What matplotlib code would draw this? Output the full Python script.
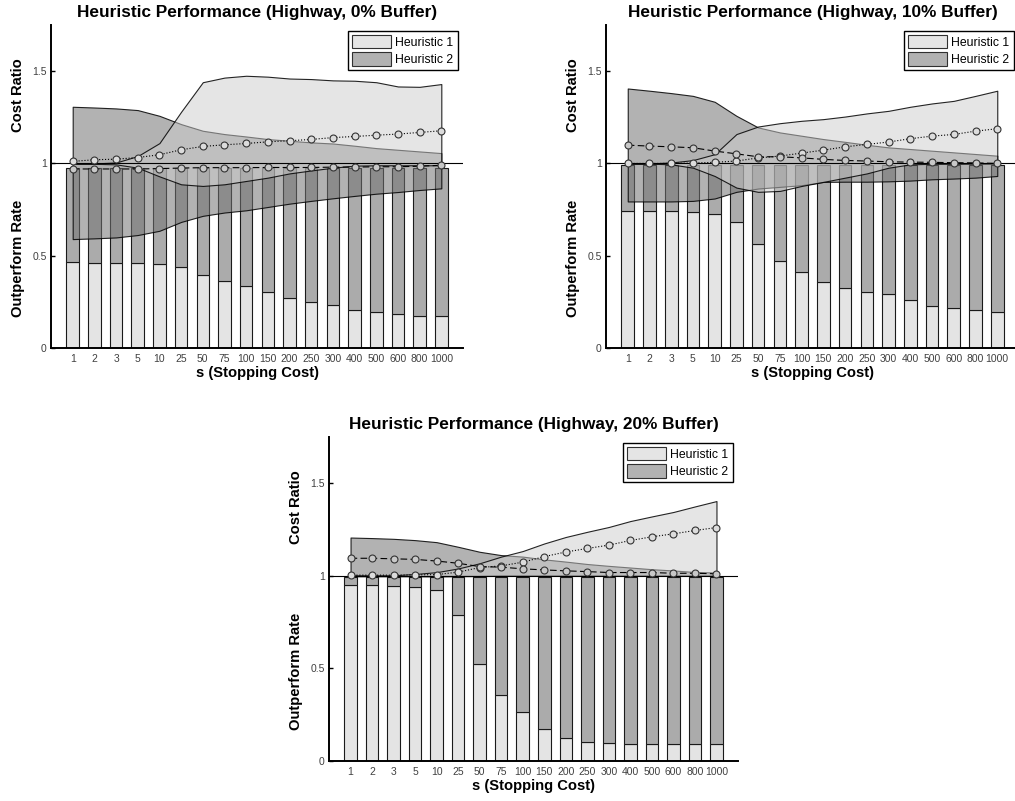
import numpy as np
import matplotlib
matplotlib.use("Agg")
import matplotlib.pyplot as plt
from matplotlib import font_manager
from matplotlib.patches import Patch

# Stopping-cost categories along the x axis
stops = ['1', '2', '3', '5', '10', '25', '50', '75', '100', '150', '200',
         '250', '300', '400', '500', '600', '800', '1000']

# --- Highway, 0% buffer ---
rate_h1_0 = [0.466, 0.462, 0.462, 0.462, 0.457, 0.439, 0.397, 0.361, 0.336,
             0.303, 0.271, 0.249, 0.235, 0.206, 0.193, 0.184, 0.173, 0.173]
rate_h2_0 = [0.509, 0.513, 0.513, 0.513, 0.518, 0.536, 0.578, 0.614, 0.639,
             0.672, 0.704, 0.726, 0.740, 0.769, 0.782, 0.791, 0.802, 0.802]
h1_lo_0 = [0.998, 0.998, 0.995, 0.977, 0.930, 0.887, 0.878, 0.887, 0.905,
           0.923, 0.946, 0.962, 0.977, 0.988, 0.990, 0.990, 0.990, 0.990]
h1_hi_0 = [1.000, 1.000, 1.005, 1.040, 1.110, 1.280, 1.440, 1.465, 1.475,
           1.470, 1.460, 1.457, 1.450, 1.448, 1.440, 1.417, 1.415, 1.430]
h2_lo_0 = [0.590, 0.594, 0.599, 0.612, 0.635, 0.683, 0.716, 0.734, 0.746,
           0.764, 0.782, 0.797, 0.811, 0.824, 0.836, 0.845, 0.856, 0.865]
h2_hi_0 = [1.307, 1.303, 1.298, 1.289, 1.258, 1.213, 1.177, 1.159, 1.146,
           1.132, 1.123, 1.114, 1.108, 1.096, 1.083, 1.074, 1.065, 1.056]
mean_h1_0 = [1.011, 1.020, 1.023, 1.032, 1.047, 1.074, 1.092, 1.101, 1.108,
             1.117, 1.123, 1.130, 1.140, 1.146, 1.153, 1.159, 1.168, 1.177]
mean_h2_0 = [0.970, 0.970, 0.970, 0.970, 0.972, 0.975, 0.977, 0.977, 0.977,
             0.978, 0.978, 0.978, 0.980, 0.980, 0.982, 0.982, 0.985, 0.990]

# --- Highway, 10% buffer ---
rate_h1_10 = [0.743, 0.743, 0.743, 0.737, 0.727, 0.680, 0.563, 0.471, 0.414,
              0.355, 0.327, 0.306, 0.293, 0.261, 0.230, 0.216, 0.205, 0.196]
rate_h2_10 = [0.247, 0.247, 0.247, 0.253, 0.263, 0.310, 0.427, 0.519, 0.576,
              0.635, 0.663, 0.684, 0.697, 0.729, 0.760, 0.774, 0.785, 0.794]
h1_lo_10 = [1.000, 0.999, 0.995, 0.977, 0.932, 0.869, 0.846, 0.851, 0.878,
            0.900, 0.923, 0.946, 0.977, 0.995, 0.998, 0.998, 0.999, 1.000]
h1_hi_10 = [1.000, 1.000, 1.005, 1.018, 1.050, 1.159, 1.200, 1.218, 1.231,
            1.240, 1.254, 1.271, 1.285, 1.307, 1.325, 1.339, 1.366, 1.394]
h2_lo_10 = [0.794, 0.794, 0.794, 0.797, 0.810, 0.846, 0.864, 0.873, 0.882,
            0.900, 0.901, 0.901, 0.903, 0.907, 0.914, 0.918, 0.923, 0.932]
h2_hi_10 = [1.406, 1.394, 1.381, 1.366, 1.334, 1.258, 1.195, 1.168, 1.150,
            1.132, 1.117, 1.101, 1.087, 1.078, 1.069, 1.060, 1.051, 1.042]
mean_h1_10 = [1.000, 1.000, 1.000, 1.002, 1.006, 1.013, 1.030, 1.040, 1.056,
              1.072, 1.090, 1.103, 1.116, 1.134, 1.148, 1.157, 1.175, 1.188]
mean_h2_10 = [1.099, 1.094, 1.090, 1.085, 1.067, 1.052, 1.036, 1.036, 1.030,
              1.022, 1.016, 1.013, 1.009, 1.007, 1.006, 1.004, 1.003, 1.000]

# --- Highway, 20% buffer ---
rate_h1_20 = [0.951, 0.951, 0.946, 0.939, 0.921, 0.789, 0.523, 0.355, 0.263,
              0.171, 0.123, 0.105, 0.095, 0.090, 0.090, 0.090, 0.090, 0.090]
rate_h2_20 = [0.044, 0.044, 0.049, 0.056, 0.074, 0.206, 0.472, 0.640, 0.732,
              0.824, 0.872, 0.890, 0.900, 0.905, 0.905, 0.905, 0.905, 0.905]
h1_lo_20 = [0.998, 0.998, 0.998, 0.998, 0.997, 0.998, 0.999, 1.000, 1.000,
            1.000, 1.000, 1.000, 1.000, 1.000, 1.000, 1.000, 1.000, 1.000]
h1_hi_20 = [1.003, 1.003, 1.003, 1.010, 1.020, 1.040, 1.068, 1.104, 1.134,
            1.175, 1.210, 1.238, 1.264, 1.296, 1.321, 1.345, 1.375, 1.404]
h2_lo_20 = [0.999, 0.999, 0.999, 0.999, 0.999, 1.000, 1.000, 1.000, 1.000,
            1.000, 1.000, 1.000, 1.000, 1.000, 1.000, 1.000, 1.000, 1.000]
h2_hi_20 = [1.207, 1.204, 1.200, 1.193, 1.182, 1.157, 1.130, 1.112, 1.104,
            1.089, 1.077, 1.064, 1.054, 1.045, 1.036, 1.029, 1.021, 1.018]
mean_h1_20 = [1.004, 1.004, 1.004, 1.005, 1.007, 1.020, 1.045, 1.054, 1.074,
              1.104, 1.129, 1.148, 1.166, 1.191, 1.211, 1.227, 1.245, 1.261]
mean_h2_20 = [1.095, 1.095, 1.092, 1.089, 1.080, 1.068, 1.050, 1.047, 1.038,
              1.032, 1.027, 1.023, 1.018, 1.018, 1.018, 1.014, 1.014, 1.011]

# colours
BAR1 = '#e4e4e4'
BAR2 = '#ababab'
BAND1 = (0.80, 0.80, 0.80, 0.50)
BAND2 = (0.45, 0.45, 0.45, 0.55)
EDGE = (0.0, 0.0, 0.0, 0.85)

BOLD = 'Liberation Sans'
names = {f.name for f in font_manager.fontManager.ttflist}
TICKFONT = 'Liberation Sans Narrow' if 'Liberation Sans Narrow' in names else 'Liberation Sans'
TICKSIZE = 8 if TICKFONT.endswith('Narrow') else 7.5

W, H = 1015, 801
fig = plt.figure(figsize=(W / 100, H / 100), dpi=100)
fig.patch.set_facecolor('white')


def add_px_axes(left, top, right, bottom):
    return fig.add_axes([left / W, 1 - bottom / H, (right - left) / W, (bottom - top) / H])


def draw_panel(ax, title, r1, r2, lo1, hi1, lo2, hi2, m1, m2):
    x = np.arange(1, len(stops) + 1)
    ax.bar(x, r1, width=0.58, color=BAR1, edgecolor='#1a1a1a', linewidth=0.8, zorder=1)
    ax.bar(x, r2, bottom=r1, width=0.58, color=BAR2, edgecolor='#1a1a1a', linewidth=0.8, zorder=1)

    ax.fill_between(x, lo2, hi2, facecolor=BAND2, edgecolor=EDGE, linewidth=0.8, zorder=2)
    ax.fill_between(x, lo1, hi1, facecolor=BAND1, edgecolor=EDGE, linewidth=0.8, zorder=3)

    ax.axhline(1, color='k', linewidth=0.8, zorder=4)

    ax.plot(x, m1, linestyle=':', color='k', linewidth=0.8, marker='o', markersize=5,
            markerfacecolor='#dcdcdc', markeredgecolor='#333333', markeredgewidth=0.8, zorder=5)
    ax.plot(x, m2, linestyle=(0, (6, 3)), color='k', linewidth=0.8, marker='o', markersize=5,
            markerfacecolor='#c8c8c8', markeredgecolor='#333333', markeredgewidth=0.8, zorder=5)

    ax.set_xlim(0, 19)
    ax.set_ylim(0, 1.75)
    ax.set_xticks(x)
    ax.set_xticklabels(stops, family=TICKFONT, fontsize=TICKSIZE, color='#404040')
    ax.set_yticks([0, 0.5, 1, 1.5])
    ax.set_yticklabels(['0', '0.5', '1', '1.5'], family=TICKFONT, fontsize=TICKSIZE, color='#404040')
    ax.tick_params(axis='x', length=0, pad=4)
    ax.tick_params(axis='y', direction='in', length=3, width=1, pad=3)

    for side in ('top', 'right'):
        ax.spines[side].set_visible(False)
    for side in ('left', 'bottom'):
        ax.spines[side].set_linewidth(1.4)

    ax.set_title(title, family=BOLD, fontsize=12.4, fontweight='bold', pad=5.5)
    ax.set_xlabel('s (Stopping Cost)', family=BOLD, fontsize=10.6, fontweight='bold', labelpad=2)

    width_px = ax.get_position().width * W
    off = -33 / width_px
    ax.text(off, 1.37, 'Cost Ratio', transform=ax.get_yaxis_transform(), rotation=90,
            ha='center', va='center', family=BOLD, fontsize=10.6, fontweight='bold')
    ax.text(off, 0.485, 'Outperform Rate', transform=ax.get_yaxis_transform(), rotation=90,
            ha='center', va='center', family=BOLD, fontsize=10.6, fontweight='bold')

    handles = [Patch(facecolor=BAND1, edgecolor='#303030', linewidth=0.8, label='Heuristic 1'),
               Patch(facecolor=BAND2, edgecolor='#303030', linewidth=0.8, label='Heuristic 2')]
    leg = ax.legend(handles=handles, loc='upper right', fancybox=False, framealpha=1,
                    edgecolor='k', prop={'family': BOLD, 'size': 8.8},
                    handlelength=3.2, handleheight=1.3, handletextpad=0.3,
                    labelspacing=0.3, borderpad=0.35, borderaxespad=0.45)
    leg.get_frame().set_linewidth(1.0)


ax1 = add_px_axes(51, 25, 463, 348)
ax2 = add_px_axes(606, 25, 1019, 348)
ax3 = add_px_axes(329, 437, 738, 761)

draw_panel(ax1, 'Heuristic Performance (Highway, 0% Buffer)', rate_h1_0, rate_h2_0,
           h1_lo_0, h1_hi_0, h2_lo_0, h2_hi_0, mean_h1_0, mean_h2_0)
draw_panel(ax2, 'Heuristic Performance (Highway, 10% Buffer)', rate_h1_10, rate_h2_10,
           h1_lo_10, h1_hi_10, h2_lo_10, h2_hi_10, mean_h1_10, mean_h2_10)
draw_panel(ax3, 'Heuristic Performance (Highway, 20% Buffer)', rate_h1_20, rate_h2_20,
           h1_lo_20, h1_hi_20, h2_lo_20, h2_hi_20, mean_h1_20, mean_h2_20)

fig.savefig('out.png', dpi=100, facecolor='white')
